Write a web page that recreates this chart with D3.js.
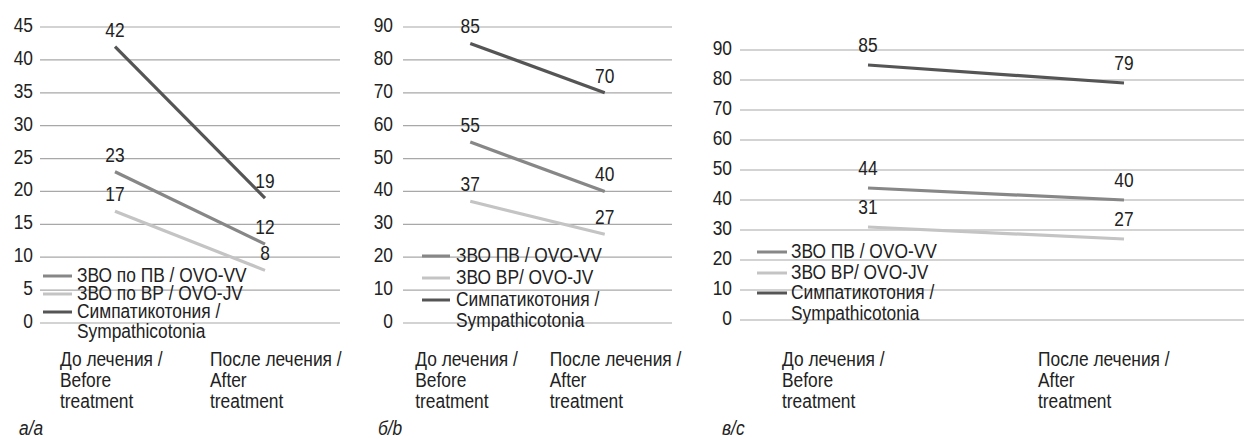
<!DOCTYPE html>
<html lang="ru">
  <head>
    <meta charset="utf-8">
    <title>Line charts</title>
    <script src="https://d3js.org/d3.v7.min.js"></script>
    <style>
      body {
        margin: 0;
        background: #fff;
      }

      svg text {
        font-family: "Liberation Sans", Arial, sans-serif;
        font-size: 19.5px;
        fill: #222;
      }

      .grid line {
        stroke: #a8a8a8;
        stroke-width: 1.2;
      }

      .panel-label {
        font-style: italic;
      }
    </style>
  </head>
  <body>
    <script>
      // categories on the x axis (wrapped lines)
      const categoryLines = [
        ['До лечения /', 'Before', 'treatment'],
        ['После лечения /', 'After', 'treatment']
      ];

      // series names
      const namesA = ['ЗВО по ПВ / OVO-VV', 'ЗВО по ВР / OVO-JV', 'Симпатикотония /', 'Sympathicotonia'];
      const namesBC = ['ЗВО ПВ / OVO-VV', 'ЗВО ВР/ OVO-JV', 'Симпатикотония /', 'Sympathicotonia'];

      // values: [before, after]
      const vvA = [23, 12];
      const jvA = [17, 8];
      const sympA = [42, 19];

      const vvB = [55, 40];
      const jvB = [37, 27];
      const sympB = [85, 70];

      const vvC = [44, 40];
      const jvC = [31, 27];
      const sympC = [85, 79];

      // tick labels
      const ticksA = [0, 5, 10, 15, 20, 25, 30, 35, 40, 45];
      const ticksBC = [0, 10, 20, 30, 40, 50, 60, 70, 80, 90];

      const panelTitles = ['а/a', 'б/b', 'в/с'];

      const colors = ['#878787', '#c4c4c4', '#555555'];

      const w = 1244;
      const h = 440;

      const svg = d3.select('body')
                    .append('svg')
                    .attr('width', w)
                    .attr('height', h);

      function drawPanel(p) {
        const g = svg.append('g');

        const xScale = d3.scalePoint()
                         .domain([0, 1])
                         .range([p.x0, p.x1])
                         .padding(0.5);

        const yScale = d3.scaleLinear()
                         .domain([0, d3.max(p.ticks)])
                         .range([p.yBottom, p.yTop]);

        // gridlines + tick labels
        const grid = g.append('g').attr('class', 'grid');
        grid.selectAll('line')
            .data(p.ticks)
            .enter()
            .append('line')
              .attr('x1', p.x0)
              .attr('x2', Math.min(p.x1, w))
              .attr('y1', d => yScale(d))
              .attr('y2', d => yScale(d));

        g.selectAll('.tick-label')
         .data(p.ticks)
         .enter()
         .append('text')
           .attr('class', 'tick-label')
           .attr('x', p.tickX)
           .attr('y', d => yScale(d) + 5)
           .attr('text-anchor', 'end')
           .text(d => d);

        // legend (under the data lines, over the grid)
        const legend = g.append('g');
        p.series.forEach((s, i) => {
          legend.append('line')
                .attr('x1', p.swatch[0])
                .attr('x2', p.swatch[1])
                .attr('y1', p.legendY[i] + 1)
                .attr('y2', p.legendY[i] + 1)
                .attr('stroke', colors[i])
                .attr('stroke-width', 3);
        });
        p.names.forEach((n, i) => {
          legend.append('text')
                .attr('x', p.legendTextX)
                .attr('y', p.legendY[i] + 7)
                .text(n);
        });

        // data lines
        const line = d3.line()
                       .x((d, i) => xScale(i))
                       .y(d => yScale(d));

        p.series.forEach((s, i) => {
          g.append('path')
           .datum(s)
           .attr('d', line)
           .attr('fill', 'none')
           .attr('stroke', colors[i])
           .attr('stroke-width', 3.2);

          g.selectAll(null)
           .data(s)
           .enter()
           .append('text')
             .attr('x', (d, j) => xScale(j))
             .attr('y', d => yScale(d) - p.labelDy)
             .attr('text-anchor', 'middle')
             .text(d => d);
        });

        // category labels, one text per wrapped line
        categoryLines.forEach((lines, i) => {
          lines.forEach((l, k) => {
            g.append('text')
             .attr('x', xScale(i) + p.catDx)
             .attr('y', 366 + k * 21)
             .text(l);
          });
        });

        g.append('text')
         .attr('class', 'panel-label')
         .attr('x', p.titleX)
         .attr('y', 435)
         .text(p.title);
      }

      drawPanel({
        series: [vvA, jvA, sympA], names: namesA, ticks: ticksA, title: panelTitles[0],
        x0: 40, x1: 340, yTop: 27, yBottom: 323, tickX: 33,
        swatch: [43, 72], legendTextX: 77, legendY: [275, 293, 311, 331],
        catDx: -55, labelDy: 10, titleX: 19
      });

      drawPanel({
        series: [vvB, jvB, sympB], names: namesBC, ticks: ticksBC, title: panelTitles[1],
        x0: 403, x1: 672, yTop: 27, yBottom: 323, tickX: 393,
        swatch: [422, 450], legendTextX: 456, legendY: [255, 277, 299, 320],
        catDx: -55, labelDy: 10, titleX: 378
      });

      drawPanel({
        series: [vvC, jvC, sympC], names: namesBC, ticks: ticksBC, title: panelTitles[2],
        x0: 740, x1: 1252, yTop: 50, yBottom: 320, tickX: 732,
        swatch: [757, 787], legendTextX: 791, legendY: [251, 272, 292, 313],
        catDx: -86, labelDy: 13, titleX: 722
      });

      // the source uses a condensed face: squeeze every label horizontally
      svg.selectAll('text').each(function() {
        const len = this.getComputedTextLength();
        d3.select(this)
          .attr('textLength', len * 0.89)
          .attr('lengthAdjust', 'spacingAndGlyphs');
      });
    </script>
  </body>
</html>
